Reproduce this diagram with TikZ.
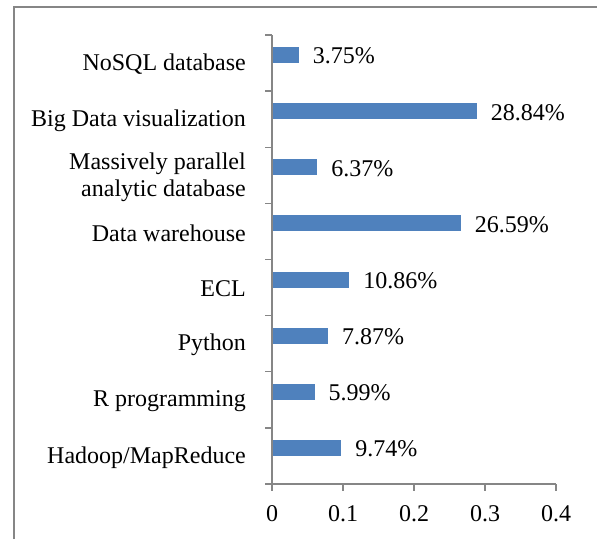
\documentclass[tikz,border=0pt]{standalone}
\usepackage{fontspec}
\setmainfont{Liberation Serif}
\definecolor{barblue}{HTML}{4F81BD}
\definecolor{axisgray}{HTML}{868686}
\begin{document}
\begin{tikzpicture}[x=1pt,y=-1pt,
  lbl/.style={font=\fontsize{24}{27}\selectfont, inner sep=0pt, align=right},
  pct/.style={font=\fontsize{24}{27}\selectfont, inner sep=0pt, anchor=west},
  bar/.style={fill=barblue, draw=none},
  axis/.style={draw=axisgray, line width=1.4pt},
  frame/.style={draw=axisgray, line width=1.6pt}]
\useasboundingbox (0,0) rectangle (597,539);
% outer frame (top and left only)
\draw[frame] (14,539) -- (14,7) -- (597,7);
% axes
\coordinate (O) at (272,484);
\coordinate (T) at (272,35);
\coordinate (E) at (556,484);
\draw[axis] (T) -- (O) -- (E);
% y ticks
\foreach \i in {0,...,8} {
  \draw[axis] (265,{35+56.125*\i}) -- (272,{35+56.125*\i});
}
% x ticks and labels
\foreach \v/\t [count=\k from 0] in {0/0,0.1/0.1,0.2/0.2,0.3/0.3,0.4/0.4} {
  \draw[axis] ({272+710*\v},484) -- ({272+710*\v},491);
  \node[lbl, anchor=center] (x\k) at ({272+710*\v},514) {\t};
}
% bars
\foreach \i/\v/\p/\name in {
  0/0.0375/3.75/{NoSQL database},
  1/0.2884/28.84/{Big Data visualization},
  2/0.0637/6.37/{Massively parallel\\analytic database},
  3/0.2659/26.59/{Data warehouse},
  4/0.1086/10.86/{ECL},
  5/0.0787/7.87/{Python},
  6/0.0599/5.99/{R programming},
  7/0.0974/9.74/{Hadoop/MapReduce}} {
  \pgfmathsetmacro{\c}{63.06+56.125*\i}
  \fill[bar] (272.7,\c-16) rectangle ({272+710*\v},\c);
  \coordinate (b\i) at ({272+710*\v},\c-7);
  \node[pct] (p\i) at ([xshift=14pt]b\i) {\p\%};
  \node[lbl, anchor=east] (c\i) at (246,\c+1.5) {\name};
}
\end{tikzpicture}
\end{document}
